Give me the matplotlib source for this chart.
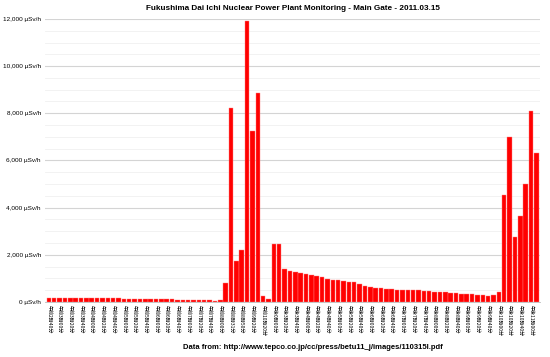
import matplotlib
matplotlib.use("Agg")
import matplotlib.pyplot as plt
from matplotlib.ticker import MultipleLocator, FuncFormatter

# readings at the main gate, uSv/h
early = [170, 170, 170, 170, 170, 170, 170, 155, 150, 155, 170, 160, 160, 155, 140, 140, 140,
         130, 130, 130, 120, 120, 110, 110, 100, 100, 100, 100, 85, 85, 70, 60, 75]
morning = [820, 8220, 1720, 2200, 11930, 7240, 8850, 260, 110, 2450, 2450]
afternoon = [1385, 1315, 1258, 1215, 1187, 1130, 1088, 1060, 990, 933, 919, 890, 862, 848, 777,
             664, 622, 608, 608, 565, 551, 523, 509, 509, 495, 495, 466, 466, 438, 438, 410, 396,
             396, 339, 339, 325, 283, 283, 268, 311, 410]
night = [4550, 7000, 2760, 3650, 5000, 8100, 6300]
values = early + morning + afternoon + night

# label for every second bar
labels = ["午前2時40分", "午前3時00分", "午前3時20分", "午前3時40分", "午前4時00分", "午前4時20分",
          "午前4時40分", "午前5時00分", "午前5時20分", "午前5時40分", "午前6時00分", "午前6時20分",
          "午前6時40分", "午前7時00分", "午前7時20分", "午前7時40分", "午前8時00分", "午前8時31分",
          "午前8時50分", "午前9時20分", "午前10時20分", "午後0時00分", "午後3時20分", "午後3時40分",
          "午後4時00分", "午後4時20分", "午後4時40分", "午後5時00分", "午後5時20分", "午後5時40分",
          "午後6時00分", "午後6時20分", "午後6時40分", "午後7時00分", "午後7時20分", "午後7時40分",
          "午後8時00分", "午後8時20分", "午後8時40分", "午後9時00分", "午後9時20分", "午後9時40分",
          "午後10時00分", "午後10時20分", "午後10時40分", "午後11時00分"]

fig = plt.figure(figsize=(5.5, 3.57), dpi=100)
ax = fig.add_axes([0.082, 0.154, 0.9, 0.793])

x = list(range(len(values)))
ax.bar(x, values, width=0.85, color="#ff0000", edgecolor="#ff8080", linewidth=0.3, zorder=3)

ax.set_xlim(-0.7, len(values) - 0.3)
ax.set_ylim(0, 12000)
ax.yaxis.set_major_locator(MultipleLocator(2000))
ax.yaxis.set_minor_locator(MultipleLocator(500))
ax.yaxis.set_major_formatter(FuncFormatter(lambda v, p: "{:,.0f} µSv/h".format(v)))
ax.grid(axis="y", which="major", color="#d4d4d4", linewidth=0.8, zorder=0)
ax.grid(axis="y", which="minor", color="#f0f0f0", linewidth=0.6, zorder=0)
ax.tick_params(axis="y", which="both", length=0, pad=3, labelsize=4.6)
for t in ax.get_yticklabels():
    t.set_family("Liberation Sans")

ax.set_xticks(x[::2])
ax.set_xticklabels(labels, rotation=270, fontsize=3.6, family=["Noto Sans CJK JP", "DejaVu Sans"],
                   va="top", ha="center")
ax.tick_params(axis="x", length=0, pad=2)

for s in ["top", "right", "left"]:
    ax.spines[s].set_visible(False)
ax.spines["bottom"].set_color("#bbbbbb")
ax.spines["bottom"].set_linewidth(0.6)

fig.text(0.532, 0.977, "Fukushima Dai Ichi Nuclear Power Plant Monitoring - Main Gate - 2011.03.15",
         ha="center", va="center", fontsize=5.9, fontweight="bold", family="Liberation Sans")
fig.text(0.569, 0.026, "Data from: http://www.tepco.co.jp/cc/press/betu11_j/images/110315l.pdf",
         ha="center", va="center", fontsize=5.5, fontweight="bold", family="Liberation Sans")

fig.savefig("out.png", dpi=100)
